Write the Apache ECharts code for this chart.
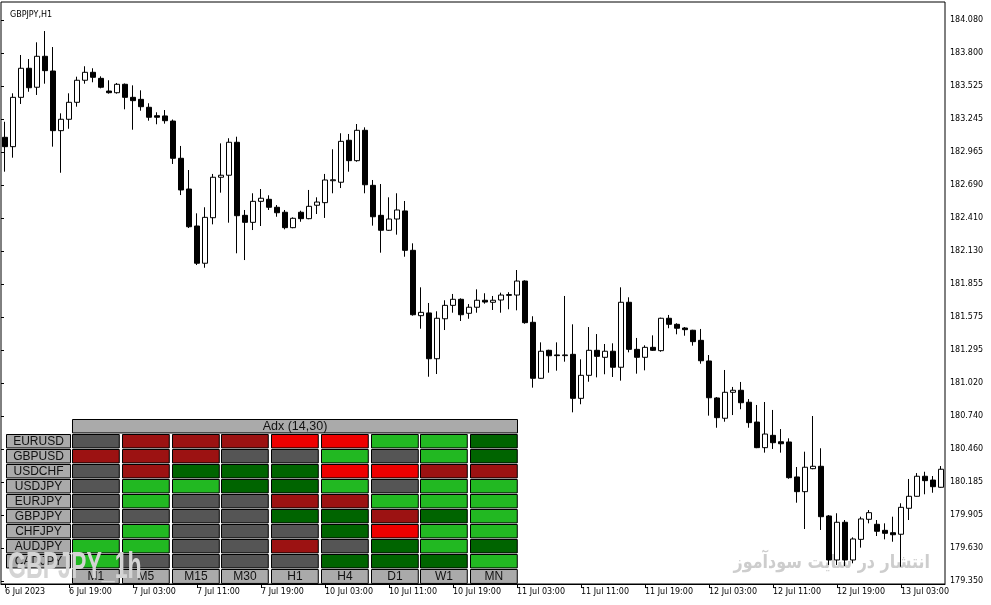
<!DOCTYPE html>
<html><head><meta charset="utf-8">
<script src="https://cdn.jsdelivr.net/npm/echarts@6/dist/echarts.min.js"></script>
<style>html,body{margin:0;padding:0;background:#fff}#c{width:991px;height:605px}</style>
</head><body><div id="c"></div>
<script>
// ---- time axis (hourly candles, weekend gap) ----
const sessions = [['6 Jul',11,23],['7 Jul',0,23],['10 Jul',0,23],['11 Jul',0,23],['12 Jul',0,23],['13 Jul',0,8]];
const firstLabel = '6 Jul 2023';
const categories = [];
sessions.forEach(([d,a,b]) => { for (let h = a; h <= b; h++) categories.push(d + ' ' + String(h).padStart(2,'0') + ':00'); });

// ---- OHLC values ----
const opens = [
183.091,183.012,183.428,183.673,183.513,183.774,183.650,183.147,183.243,183.386,
183.572,183.639,183.588,183.481,183.467,183.538,183.428,183.411,183.344,183.273,
183.271,183.228,182.914,182.655,182.343,182.029,182.413,182.754,182.771,183.049,
182.433,182.374,182.551,182.568,182.501,182.459,182.329,182.459,182.405,182.518,
182.540,182.725,182.712,183.066,182.894,183.150,182.686,182.433,182.307,182.402,
182.470,182.138,181.587,181.610,181.224,181.561,181.674,181.725,181.607,181.658,
181.717,181.700,181.719,181.758,181.761,181.879,181.531,181.059,181.295,181.256,
181.250,181.261,180.890,181.084,181.295,181.236,181.287,181.152,181.700,181.303,
181.236,181.320,181.292,181.565,181.514,181.483,181.464,181.379,181.205,180.893,
180.722,180.941,180.958,180.857,180.690,180.474,180.578,180.524,180.522,180.227,
180.103,180.297,180.317,179.898,179.527,179.845,179.527,179.701,179.870,179.828,
179.777,179.757,179.744,179.963,180.064,180.233,180.201,180.140];
const closes = [
183.012,183.428,183.673,183.509,183.774,183.653,183.147,183.243,183.386,183.572,
183.639,183.597,183.513,183.467,183.538,183.428,183.400,183.349,183.260,183.260,
183.231,182.914,182.647,182.337,182.029,182.416,182.754,182.771,183.049,182.430,
182.374,182.551,182.577,182.501,182.455,182.329,182.408,182.405,182.509,182.545,
182.731,182.733,183.057,182.894,183.150,182.691,182.421,182.307,182.402,182.478,
182.138,181.595,181.615,181.224,181.565,181.674,181.725,181.595,181.658,181.717,
181.702,181.717,181.761,181.765,181.879,181.528,181.059,181.287,181.249,181.250,
181.256,180.890,181.084,181.295,181.244,181.287,181.152,181.700,181.303,181.236,
181.320,181.295,181.565,181.514,181.481,181.469,181.368,181.207,180.895,180.727,
180.941,180.958,180.853,180.685,180.474,180.589,180.516,180.507,180.221,180.103,
180.309,180.317,179.892,179.527,179.845,179.527,179.704,179.873,179.926,179.769,
179.752,179.740,179.971,180.064,180.233,180.196,180.145,180.292];
const lows = [
182.801,182.919,183.372,183.475,183.448,183.543,183.012,182.792,183.163,183.349,
183.543,183.555,183.504,183.459,183.459,183.327,183.155,183.315,183.231,183.201,
183.206,182.866,182.604,182.326,182.014,181.991,182.357,182.624,182.371,182.113,
182.056,182.309,182.343,182.478,182.421,182.315,182.324,182.379,182.400,182.444,
182.411,182.619,182.663,182.801,182.885,182.619,182.346,182.118,182.302,182.270,
182.084,181.587,181.477,181.072,181.095,181.466,181.612,181.542,181.561,181.612,
181.688,181.635,181.612,181.641,181.632,181.519,180.980,181.055,181.106,181.123,
181.199,180.772,180.840,181.030,181.067,181.093,181.070,181.039,181.278,181.098,
181.126,181.289,181.283,181.481,181.430,181.418,181.334,181.182,180.744,180.642,
180.693,180.749,180.798,180.642,180.470,180.432,180.463,180.432,180.212,180.010,
179.788,180.292,179.780,179.485,179.485,179.476,179.499,179.631,179.836,179.729,
179.701,179.681,179.470,179.864,180.061,180.081,180.094,180.136];
const highs = [
183.222,183.462,183.785,183.751,183.892,183.987,183.852,183.293,183.462,183.602,
183.690,183.673,183.605,183.572,183.549,183.545,183.529,183.487,183.378,183.302,
183.321,183.241,183.018,182.815,182.450,182.501,182.782,183.040,183.083,183.096,
182.478,182.619,182.655,182.602,182.520,182.478,182.416,182.472,182.647,182.585,
182.782,182.990,183.125,183.119,183.203,183.175,182.731,182.697,182.585,182.619,
182.554,182.197,181.826,181.694,181.624,181.717,181.770,181.733,181.685,181.809,
181.776,181.753,181.781,181.785,181.972,181.885,181.582,181.362,181.300,181.362,
181.753,181.514,181.219,181.491,181.432,181.348,181.354,181.826,181.742,181.399,
181.337,181.421,181.570,181.593,181.523,181.491,181.468,181.475,181.255,180.901,
181.129,180.986,181.028,180.884,180.834,180.859,180.792,180.631,180.553,180.311,
180.440,180.741,180.469,179.906,179.921,179.864,179.718,179.892,179.948,179.864,
179.836,179.892,180.005,180.210,180.260,180.271,180.235,180.319];

// ---- price scale tick labels (bottom to top) ----
const priceTicks = ['179.350','179.630','179.905','180.185','180.460','180.740','181.020','181.295','181.575',
  '181.855','182.130','182.410','182.690','182.965','183.245','183.525','183.800','184.080'];
const priceMin = 179.3245, priceMax = 184.2318;

// ---- ADX dashboard ----
const tableTitle = 'Adx (14,30)';
const pairs = ['EURUSD','GBPUSD','USDCHF','USDJPY','EURJPY','GBPJPY','CHFJPY','AUDJPY','CADJPY'];
const timeframes = ['M1','M5','M15','M30','H1','H4','D1','W1','MN'];
// 0 flat, 1 weak down, 2 strong down, 3 strong up, 4 weak up
const states = [
  [0,1,1,1,2,2,3,3,4],
  [1,1,1,0,0,3,0,3,4],
  [0,1,4,4,4,2,2,1,1],
  [0,3,3,4,4,3,0,3,3],
  [0,3,0,0,1,1,3,3,3],
  [0,0,0,0,4,4,1,4,3],
  [0,3,0,0,0,4,2,3,3],
  [3,3,0,0,1,0,4,3,4],
  [3,0,0,0,0,4,4,4,3]
];
const stateColors = ['#555555','#9c1212','#ee0000','#22b822','#006400'];

const FONT = '"DejaVu Sans", sans-serif';
const TFONT = '"Liberation Sans", Arial, sans-serif';
const candles = categories.map((_, i) => [opens[i], closes[i], lows[i], highs[i]]);
const cellData = [];
states.forEach((row, i) => row.forEach((s, j) => cellData.push([j, i, s])));

function cellRect(x, y, w, h, fill, text, fs) {
  const ch = [{type:'rect', shape:{x:Math.round(x)+0.5, y:Math.round(y)+0.5, width:w, height:h},
    style:{fill:fill, stroke:'#000', lineWidth:1}}];
  if (text) ch.push({type:'text', style:{text:text, x:Math.round(x)+0.5+w/2, y:Math.round(y)+0.5+h/2+0.5,
    align:'center', verticalAlign:'middle', textAlign:'center', textVerticalAlign:'middle',
    font:(fs||12)+'px ' + TFONT, fill:'#111'}});
  return {type:'group', children:ch};
}

const chart = echarts.init(document.getElementById('c'), null, {renderer:'canvas'});
chart.setOption({
  backgroundColor:'#ffffff',
  animation:false,
  title:{text:'GBPJPY,H1', left:5, top:6, textStyle:{fontSize:8, fontWeight:'normal', fontFamily:FONT, color:'#000'}},
  grid:[
    {left:1, right:46, top:2, bottom:21, show:true, borderColor:'#000', borderWidth:1, backgroundColor:'transparent'},
    {left:1, right:46, top:20, bottom:24},
    {left:72, top:434, width:448, height:134.5}
  ],
  xAxis:[
    {type:'category', gridIndex:0, data:categories, boundaryGap:true,
     axisLine:{show:true, lineStyle:{color:'#000', width:1}},
     axisTick:{show:true, interval:7, alignWithLabel:true, length:4, lineStyle:{color:'#000'}},
     axisLabel:{interval:7, align:'left', margin:4, fontSize:8, fontFamily:FONT, color:'#000',
       formatter:(v, i) => i === 0 ? firstLabel : v},
     splitLine:{show:false}},
    {type:'value', gridIndex:1, show:false},
    {type:'category', gridIndex:2, data:timeframes, show:false}
  ],
  yAxis:[
    {type:'value', gridIndex:0, min:priceMin, max:priceMax, position:'right', show:false},
    {type:'category', gridIndex:1, data:priceTicks, boundaryGap:false, position:'right',
     axisLine:{show:false},
     axisTick:{show:true, interval:0, length:3, lineStyle:{color:'#000'}},
     axisLabel:{interval:0, margin:5, fontSize:8, fontFamily:FONT, color:'#000'},
     splitLine:{show:false}},
    {type:'category', gridIndex:2, data:pairs, inverse:true, show:false}
  ],
  graphic:[
    {type:'text', x:930, y:563, scaleX:0.84, z:1, style:{text:'انتشار در سایت سودآموز', font:'bold 19px "DejaVu Sans"',
      fill:'#cdcdcd', align:'right', verticalAlign:'middle', textAlign:'right', textVerticalAlign:'middle'}},
    {type:'text', x:8, y:586, scaleX:0.68, scaleY:1.08, z:50, style:{text:'GBPJPY_1h', font:'bold 34px "Liberation Sans"',
      fill:'#d4d4d4', align:'left', verticalAlign:'bottom', textAlign:'left', textVerticalAlign:'bottom'}}
  ],
  series:[
    {type:'candlestick', xAxisIndex:0, yAxisIndex:0, data:candles, barWidth:5, z:3,
     itemStyle:{color:'#ffffff', color0:'#000000', borderColor:'#000000', borderColor0:'#000000', borderColorDoji:'#000000', borderWidth:1}},
    {type:'custom', xAxisIndex:2, yAxisIndex:2, data:cellData, z:5, silent:true,
     renderItem:(params, api) => {
       const c = api.coord([api.value(0), api.value(1)]); const sz = api.size([1, 1]);
       return cellRect(c[0] - sz[0]/2, c[1] - sz[1]/2, sz[0] - 3, sz[1] - 1.5, stateColors[api.value(2)]);
     }},
    {type:'custom', xAxisIndex:2, yAxisIndex:2, data:pairs.map((p, i) => [0, i]), z:5, silent:true,
     renderItem:(params, api) => {
       const cs = params.coordSys; const c = api.coord([0, api.value(1)]); const sz = api.size([1, 1]);
       return cellRect(cs.x - 66, c[1] - sz[1]/2, 64, sz[1] - 1.5, '#aaaaaa', pairs[params.dataIndex], 12);
     }},
    {type:'custom', xAxisIndex:2, yAxisIndex:2, data:timeframes.map((t, j) => [j, pairs.length - 1]), z:5, silent:true,
     renderItem:(params, api) => {
       const c = api.coord([api.value(0), api.value(1)]); const sz = api.size([1, 1]);
       return cellRect(c[0] - sz[0]/2, c[1] + sz[1]/2, sz[0] - 3, sz[1] - 1, '#aaaaaa', timeframes[params.dataIndex], 12);
     }},
    {type:'custom', xAxisIndex:2, yAxisIndex:2, data:[[0, 0]], z:5, silent:true,
     renderItem:(params, api) => {
       const cs = params.coordSys; const c = api.coord([0, 0]); const sz = api.size([1, 1]);
       return cellRect(cs.x, c[1] - sz[1]*1.5, cs.width - 3, sz[1] - 1.5, '#aaaaaa', tableTitle, 12.5);
     }}
  ]
});
</script>
</body></html>
